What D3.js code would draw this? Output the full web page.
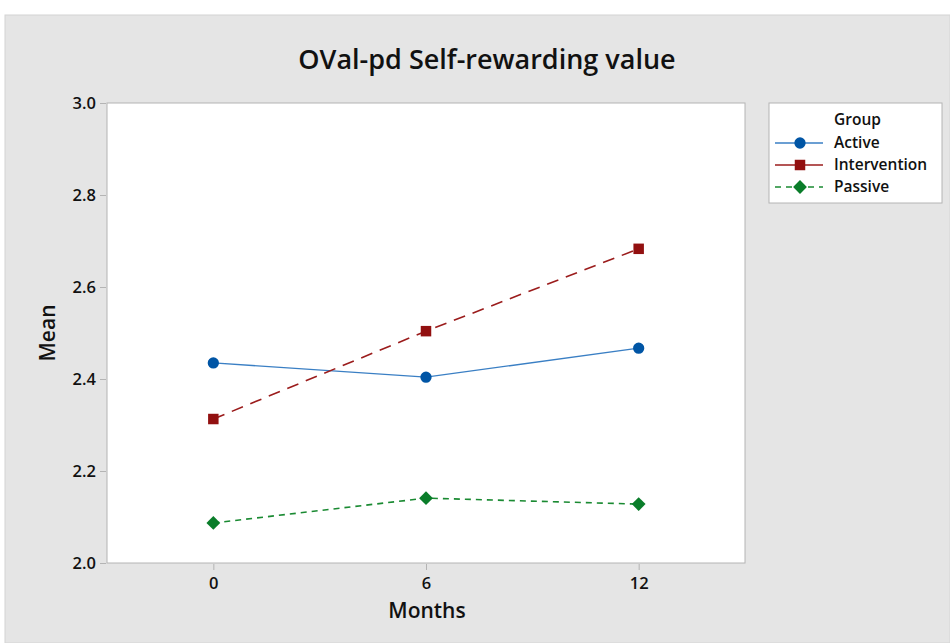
<!DOCTYPE html>
<html><head><meta charset="utf-8">
<script src="https://cdn.jsdelivr.net/npm/d3@7"></script>
<style>body{margin:0;background:#fff;}svg{display:block;font-family:"Open Sans","Noto Sans",sans-serif;}</style>
</head><body><svg id="c" width="950" height="643"></svg>
<script>
const months = [0, 6, 12];
const groups = ["Active", "Intervention", "Passive"];
const activeVals = [2.435, 2.404, 2.467];
const interventionVals = [2.313, 2.504, 2.683];
const passiveVals = [2.087, 2.141, 2.128];
const yTicks = [2.0, 2.2, 2.4, 2.6, 2.8, 3.0];
const colors = ["#0055a5", "#921010", "#0a7d2a"];
const lineColors = ["#3a7fc4", "#9b1c1c", "#1a8a32"];
const dashes = [null, "12,8", "6,5"];
const shapes = [d3.symbolCircle, d3.symbolSquare, d3.symbolSquare];
const rot = [0, 0, 45];
const symSizes = [100, 110, 95];
const series = [activeVals, interventionVals, passiveVals];

const svg = d3.select("#c");
svg.append("rect").attr("x",5).attr("y",15).attr("width",945).attr("height",628).attr("fill","#e5e5e5").attr("stroke","#d4d4d4");

const L=107,R=745,T=103,B=563;
const x = d3.scaleLinear().domain([-3,15]).range([L,R]);
const y = d3.scaleLinear().domain([2,3]).range([B,T]);

svg.append("rect").attr("x",L).attr("y",T).attr("width",R-L).attr("height",B-T).attr("fill","#fff").attr("stroke","#b4b4b4");

const yAxis = svg.append("g").attr("transform",`translate(${L-1},0)`)
  .call(d3.axisLeft(y).tickValues(yTicks).tickFormat(d3.format(".1f")).tickSize(6).tickSizeOuter(0));
yAxis.select(".domain").remove();
yAxis.selectAll("line").attr("stroke","#b4b4b4");
yAxis.selectAll("text").style("font-size","16.5px").style("font-weight","600").style("font-family","'Open Sans',sans-serif").attr("fill","#111").attr("dx",-1).attr("dy","0.36em");

const xAxis = svg.append("g").attr("transform",`translate(0,${B+1})`)
  .call(d3.axisBottom(x).tickValues(months).tickSize(6).tickSizeOuter(0));
xAxis.select(".domain").remove();
xAxis.selectAll("line").attr("stroke","#b4b4b4");
xAxis.selectAll("text").style("font-size","16.5px").style("font-weight","600").style("font-family","'Open Sans',sans-serif").attr("fill","#111").attr("dy",16);

svg.append("text").attr("x",487).attr("y",69).attr("text-anchor","middle").attr("font-size",27).attr("font-weight",600).attr("fill","#111").text("OVal-pd Self-rewarding value");
svg.append("text").attr("x",427).attr("y",618).attr("text-anchor","middle").attr("font-size",21).attr("font-weight",600).attr("fill","#111").text("Months");
svg.append("text").attr("transform","translate(55,333) rotate(-90)").attr("text-anchor","middle").attr("font-size",21).attr("font-weight",600).attr("fill","#111").text("Mean");

const line = d3.line().x((d,i)=>x(months[i])).y(d=>y(d));
series.forEach((vals,k)=>{
  const p = svg.append("path").attr("d",line(vals)).attr("fill","none").attr("stroke",lineColors[k]).attr("stroke-width",k===0?1.3:1.6);
  if(dashes[k]) p.attr("stroke-dasharray",dashes[k]);
  svg.selectAll(null).data(vals).enter().append("path")
    .attr("d",d3.symbol().type(shapes[k]).size(symSizes[k]))
    .attr("transform",(d,i)=>`translate(${x(months[i])},${y(d)}) rotate(${rot[k]})`)
    .attr("fill",colors[k]);
});

// legend
const lg = svg.append("g");
lg.append("rect").attr("x",769).attr("y",103).attr("width",173).attr("height",100).attr("fill","#fff").attr("stroke","#b4b4b4");
lg.append("text").attr("x",834).attr("y",125).attr("font-size",15.5).attr("font-weight",600).attr("fill","#111").text("Group");
groups.forEach((g,k)=>{
  const yy = 143 + k*22;
  const l = lg.append("line").attr("x1",775).attr("x2",823).attr("y1",yy).attr("y2",yy).attr("stroke",lineColors[k]).attr("stroke-width",1.5);
  if(k===2) l.attr("stroke-dasharray","6,5");
  lg.append("path").attr("d",d3.symbol().type(shapes[k]).size(symSizes[k])).attr("transform",`translate(800,${yy}) rotate(${rot[k]})`).attr("fill",colors[k]);
  lg.append("text").attr("x",834).attr("y",yy+5).attr("font-size",15.5).attr("font-weight",600).attr("fill","#111").text(g);
});
</script></body></html>
